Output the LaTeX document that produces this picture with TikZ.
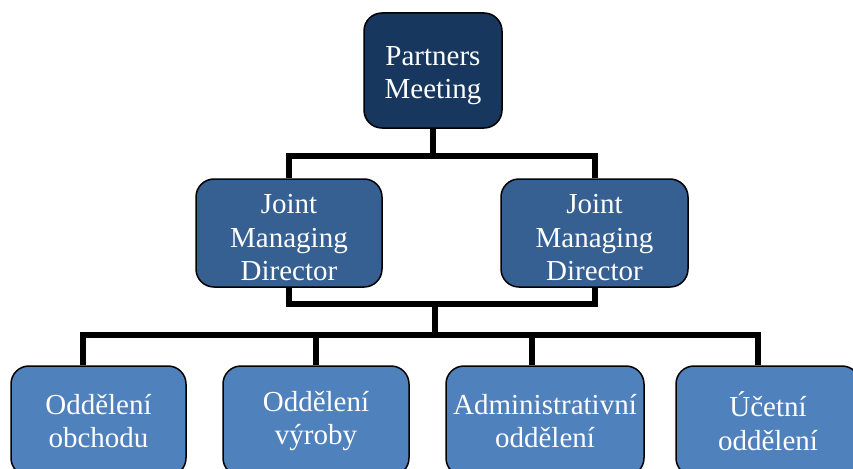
\documentclass[tikz,border=0pt]{standalone}
\usepackage{fontspec}
\setmainfont{Liberation Serif}
\usepackage{xcolor}
\definecolor{topblue}{HTML}{17375E}
\definecolor{midblue}{HTML}{366092}
\definecolor{lowblue}{HTML}{4F81BD}

% extra height on the first line pushes the text a bit down
\newcommand{\droptext}{\rule{0pt}{29pt}}

\tikzset{
  orgbox/.style = {draw=black, line width=1.5pt, rounded corners=18pt, text=white,
                   align=center, inner sep=0pt, font=\rmfamily\fontsize{29}{33.5}\selectfont},
  conn/.style   = {line width=6pt, black},
}

\begin{document}
\begin{tikzpicture}[x=1pt, y=-1pt]
\path[use as bounding box, clip] (0,0) rectangle (853,468);

\node[orgbox, fill=topblue, minimum width=138pt, minimum height=115pt] (pm) at (433,70.5){\droptext Partners\\Meeting};

\node[orgbox, fill=midblue, minimum width=186pt, minimum height=108pt] (jmd_l) at (289,233){\droptext Joint\\Managing\\Director};
\node[orgbox, fill=midblue, minimum width=187pt, minimum height=108pt] (jmd_r) at (594.5,233){\droptext Joint\\Managing\\Director};

\node[orgbox, fill=lowblue, minimum width=175pt, minimum height=110pt] (obchod) at (98.5,421){Oddělení\\obchodu};
\node[orgbox, fill=lowblue, minimum width=186pt, minimum height=110pt] (vyroba) at (316,421){Oddělení\\výroby};
\node[orgbox, fill=lowblue, minimum width=198pt, minimum height=110pt] (admin) at (545,421){Administrativní\\oddělení};
\node[orgbox, fill=lowblue, minimum width=184pt, minimum height=110pt] (ucetni) at (768,421){Účetní\\oddělení};

\coordinate (bar_top) at (433,156);
\coordinate (bar_mid) at (435,303.5);
\coordinate (bar_low) at (435,335);

\draw[conn] (pm.south)--(bar_top);
\draw[conn] (jmd_l.north) |- (bar_top) -| (jmd_r.north);

\draw[conn] (jmd_l.south) |- (bar_mid) -| (jmd_r.south);
\draw[conn] (bar_mid)--(bar_low);

\draw[conn] ([xshift=-15.5pt]obchod.north) |- (bar_low) -| ([xshift=-10.5pt]ucetni.north);
\draw[conn] (vyroba.north)--(vyroba.north |- bar_low);
\draw[conn] ([xshift=-13pt]admin.north)--([xshift=-13pt]admin.north |- bar_low);
\end{tikzpicture}
\end{document}
